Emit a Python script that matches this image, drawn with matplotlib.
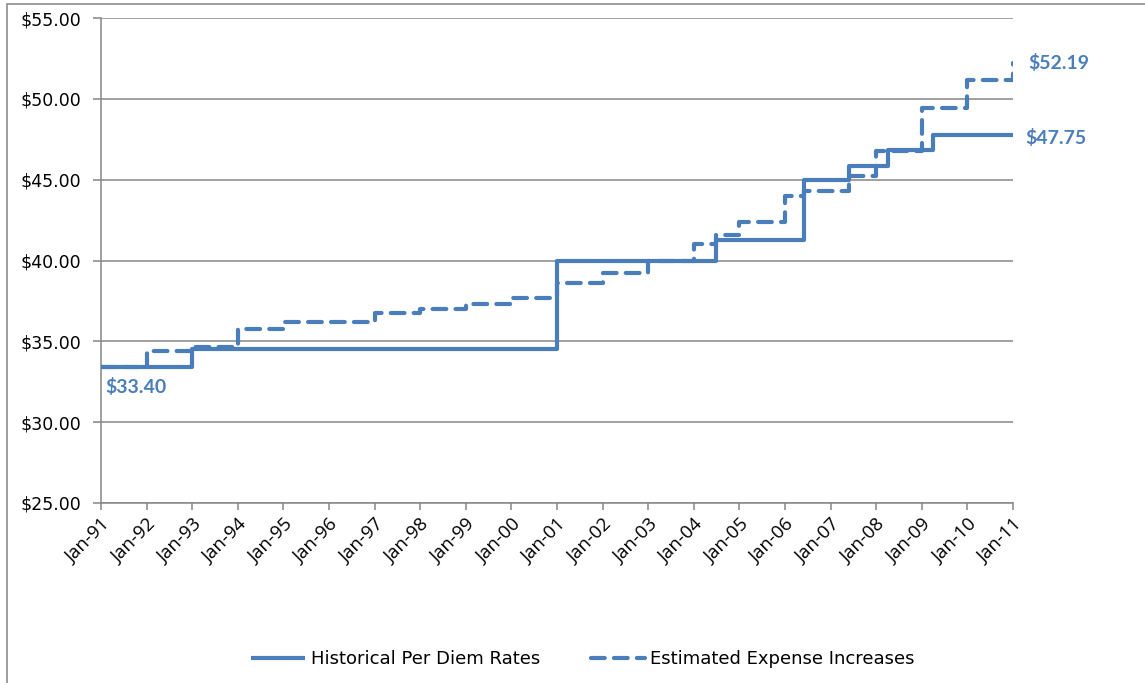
import matplotlib
matplotlib.use("Agg")
import matplotlib.pyplot as plt
from matplotlib.patches import Rectangle
from datetime import datetime

# Historical per diem rate changes (effective month, rate)
hist_dates = ["1991-01", "1993-01", "2001-01", "2004-07", "2006-06",
              "2007-06", "2008-04", "2009-04", "2011-01"]
hist_rates = [33.40, 34.50, 40.00, 41.25, 45.00, 45.85, 46.85, 47.75, 47.75]

# Estimated expense increases (effective month, amount)
est_dates = ["1991-01", "1992-01", "1993-01", "1994-01", "1995-01", "1997-01",
             "1998-01", "1999-01", "2000-01", "2001-01", "2002-01", "2003-01",
             "2004-01", "2004-07", "2005-01", "2006-01", "2006-06", "2007-06",
             "2008-01", "2009-01", "2010-01", "2011-01"]
est_rates = [33.40, 34.40, 34.68, 35.74, 36.19, 36.73, 36.98, 37.28, 37.66,
             38.62, 39.24, 40.00, 41.05, 41.60, 42.41, 43.97, 44.32, 45.20,
             46.75, 49.43, 51.17, 52.19]

tick_years = list(range(1991, 2012))
tick_labels = [f"Jan-{y % 100:02d}" for y in tick_years]

y_ticks = [25, 30, 35, 40, 45, 50, 55]

series_labels = ["Historical Per Diem Rates", "Estimated Expense Increases"]

BLUE = "#4A7EBB"
GRID = "#868686"


def to_dt(s):
    return datetime.strptime(s, "%Y-%m")


hx = [to_dt(d) for d in hist_dates]
ex = [to_dt(d) for d in est_dates]

fig = plt.figure(figsize=(11.45, 6.83), dpi=100)
ax = fig.add_axes([101 / 1145, 1 - 503 / 683, (1013 - 101) / 1145, (503 - 18) / 683])

# outer chart frame
fig.patches.append(Rectangle((7 / 1145, -0.05), 1.2, 1 - 4 / 683 + 0.05,
                             transform=fig.transFigure, fill=False,
                             edgecolor="#8C8C8C", linewidth=1.2, zorder=0))

ax.plot(hx, hist_rates, drawstyle="steps-post", color=BLUE, lw=3,
        solid_capstyle="butt", label=series_labels[0], zorder=3)
ax.plot(ex, est_rates, drawstyle="steps-post", color=BLUE, lw=3,
        linestyle=(0, (3.3, 2.2)), dash_capstyle="round",
        label=series_labels[1], zorder=3)

ax.set_xlim(datetime(1991, 1, 1), datetime(2011, 1, 1))
ax.set_ylim(25, 55)
ax.set_yticks(y_ticks)
ax.set_yticklabels([f"${v:.2f}" for v in y_ticks], fontsize=12.5,
                   family="DejaVu Sans")
ax.set_xticks([datetime(y, 1, 1) for y in tick_years])
ax.set_xticklabels(tick_labels, rotation=45, ha="right",
                   rotation_mode="anchor", fontsize=13.5, family="Open Sans")

ax.grid(axis="y", color=GRID, lw=1.1)
ax.set_axisbelow(True)
for s in ["top", "right"]:
    ax.spines[s].set_visible(False)
for s in ["left", "bottom"]:
    ax.spines[s].set_color(GRID)
    ax.spines[s].set_linewidth(1.1)
ax.tick_params(axis="y", length=6, width=1.1, color=GRID, pad=8)
ax.tick_params(axis="x", length=5, width=1.1, color=GRID, pad=4)

# value labels at the start and end points
lab_kw = dict(color=BLUE, fontweight="bold", fontsize=14, family="Lato",
              textcoords="offset points", va="center", ha="left",
              annotation_clip=False)
ax.annotate(f"${hist_rates[0]:.2f}", (hx[0], hist_rates[0]), xytext=(3, -14), **lab_kw)
ax.annotate(f"${hist_rates[-1]:.2f}", (hx[-1], hist_rates[-1]), xytext=(9, -2), **lab_kw)
ax.annotate(f"${est_rates[-1]:.2f}", (ex[-1], est_rates[-1]), xytext=(11, 0), **lab_kw)

leg = fig.legend(loc="center", bbox_to_anchor=(583 / 1145, 1 - 659 / 683), ncol=2,
                 frameon=False, handlelength=3.0, columnspacing=2.8,
                 handletextpad=0.3,
                 prop={"family": "DejaVu Sans", "size": 13})

fig.savefig("out.png", dpi=100)
